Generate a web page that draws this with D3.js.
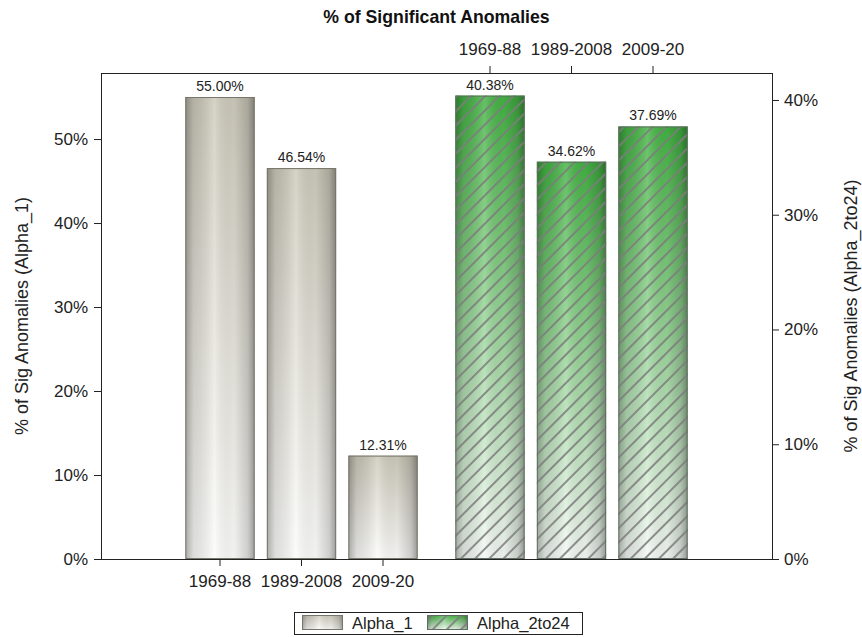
<!DOCTYPE html>
<html>
<head>
<meta charset="utf-8">
<script src="https://cdn.jsdelivr.net/npm/d3@7"></script>
<style>
  html, body { margin: 0; padding: 0; background: #fff; }
  svg { display: block; font-family: "Liberation Sans", Arial, sans-serif; }
</style>
</head>
<body>
<svg id="chart" width="862" height="637"></svg>
<script>
// Periods shown on both category axes
const periods = ["1969-88", "1989-2008", "2009-20"];
// Percent of significant anomalies per period
const alpha1 = [55.00, 46.54, 12.31];
const alpha2to24 = [40.38, 34.62, 37.69];
// Axis tick values (percent)
const leftTicks = [0, 10, 20, 30, 40, 50];
const rightTicks = [0, 10, 20, 30, 40];
const seriesNames = ["Alpha_1", "Alpha_2to24"];

const svg = d3.select("#chart");
const frame = { left: 101, right: 772, top: 73, bottom: 559 };

const yL = d3.scaleLinear().domain([0, 57.86]).range([frame.bottom, frame.top]);
const yR = d3.scaleLinear().domain([0, 42.35]).range([frame.bottom, frame.top]);
const xB = d3.scaleBand().domain(periods).range([179.25, 423.75]).paddingInner(0.15).paddingOuter(0.075);
const xT = d3.scaleBand().domain(periods).range([449.25, 693.75]).paddingInner(0.15).paddingOuter(0.075);

// ---- paint definitions ----
const defs = svg.append("defs");
function vGrad(id, top, bottom) {
  const g = defs.append("linearGradient").attr("id", id)
    .attr("x1", 0).attr("y1", 0).attr("x2", 0).attr("y2", 1);
  g.append("stop").attr("offset", 0).attr("stop-color", top);
  g.append("stop").attr("offset", 1).attr("stop-color", bottom);
}
vGrad("fillA1", "#cdcabb", "#fcfcfa");
vGrad("fillA2", "#42b242", "#f3f8f3");

const sh = defs.append("linearGradient").attr("id", "shadeH")
  .attr("x1", 0).attr("y1", 0).attr("x2", 1).attr("y2", 0);
[[0, "#000", 0.32], [0.12, "#000", 0.12], [0.42, "#fff", 0.18], [0.7, "#000", 0.04], [0.9, "#000", 0.18], [1, "#000", 0.38]]
  .forEach(([o, c, a]) => sh.append("stop").attr("offset", o).attr("stop-color", c).attr("stop-opacity", a));

const hatch = defs.append("pattern").attr("id", "hatch")
  .attr("patternUnits", "userSpaceOnUse").attr("width", 10).attr("height", 10)
  .attr("patternTransform", "rotate(45)");
hatch.append("line").attr("x1", 1).attr("y1", 0).attr("x2", 1).attr("y2", 10)
  .attr("stroke", "#7d7d7d").attr("stroke-width", 2).attr("stroke-opacity", 0.85);

function drawBar(g, x, y, w, h, fill, hatched, stroke) {
  g.append("rect").attr("x", x).attr("y", y).attr("width", w).attr("height", h).attr("fill", fill);
  g.append("rect").attr("x", x).attr("y", y).attr("width", w).attr("height", h).attr("fill", "url(#shadeH)");
  if (hatched) g.append("rect").attr("x", x).attr("y", y).attr("width", w).attr("height", h).attr("fill", "url(#hatch)");
  g.append("rect").attr("x", x + 0.5).attr("y", y + 0.5).attr("width", w - 1).attr("height", h - 1)
    .attr("fill", "none").attr("stroke", stroke).attr("stroke-width", 1);
}

// ---- bars ----
const bars = svg.append("g");
periods.forEach((p, i) => {
  const y = yL(alpha1[i]);
  drawBar(bars, xB(p), y, xB.bandwidth(), frame.bottom - y, "url(#fillA1)", false, "#77746a");
  bars.append("text").attr("x", xB(p) + xB.bandwidth() / 2).attr("y", y - 6)
    .attr("text-anchor", "middle").attr("font-size", 14).attr("fill", "#222")
    .text(alpha1[i].toFixed(2) + "%");
});
periods.forEach((p, i) => {
  const y = yR(alpha2to24[i]);
  drawBar(bars, xT(p), y, xT.bandwidth(), frame.bottom - y, "url(#fillA2)", true, "#5f6f5f");
  bars.append("text").attr("x", xT(p) + xT.bandwidth() / 2).attr("y", y - 6)
    .attr("text-anchor", "middle").attr("font-size", 14).attr("fill", "#222")
    .text(alpha2to24[i].toFixed(2) + "%");
});

// ---- axes ----
const pct = d => d + "%";
function styleAxis(g, size) {
  g.selectAll("path").attr("stroke", "#222");
  g.selectAll("line").attr("stroke", "#222");
  g.selectAll("text").attr("font-size", size).attr("fill", "#222");
}
const gl = svg.append("g").attr("transform", `translate(${frame.left},0)`)
  .call(d3.axisLeft(yL).tickValues(leftTicks).tickFormat(pct).tickSize(7).tickSizeOuter(0).tickPadding(6));
styleAxis(gl, 17);
const gr = svg.append("g").attr("transform", `translate(${frame.right},0)`)
  .call(d3.axisRight(yR).tickValues(rightTicks).tickFormat(pct).tickSize(7).tickSizeOuter(0).tickPadding(5));
styleAxis(gr, 17);

const gb = svg.append("g").attr("transform", `translate(0,${frame.bottom})`)
  .call(d3.axisBottom(xB).tickSize(7).tickSizeOuter(0).tickPadding(9));
gb.select("path").remove();
styleAxis(gb, 17);
const gt = svg.append("g").attr("transform", `translate(0,${frame.top})`)
  .call(d3.axisTop(xT).tickSize(7).tickSizeOuter(0).tickPadding(11));
gt.select("path").remove();
styleAxis(gt, 17);

// frame lines
svg.append("line").attr("x1", frame.left).attr("x2", frame.right).attr("y1", frame.bottom + 0.5).attr("y2", frame.bottom + 0.5).attr("stroke", "#222");
svg.append("line").attr("x1", frame.left).attr("x2", frame.right).attr("y1", frame.top + 0.5).attr("y2", frame.top + 0.5).attr("stroke", "#222");
svg.append("line").attr("x1", frame.left + 0.5).attr("x2", frame.left + 0.5).attr("y1", frame.top).attr("y2", frame.bottom + 1).attr("stroke", "#222");
svg.append("line").attr("x1", frame.right + 0.5).attr("x2", frame.right + 0.5).attr("y1", frame.top).attr("y2", frame.bottom + 1).attr("stroke", "#222");

// axis titles
const midY = (frame.top + frame.bottom) / 2;
svg.append("text").attr("transform", `translate(28,${midY}) rotate(-90)`)
  .attr("text-anchor", "middle").attr("font-size", 18).attr("fill", "#222")
  .text("% of Sig Anomalies (Alpha_1)");
svg.append("text").attr("transform", `translate(857,${midY}) rotate(-90)`)
  .attr("text-anchor", "middle").attr("font-size", 18).attr("fill", "#222")
  .text("% of Sig Anomalies (Alpha_2to24)");

// chart title
svg.append("text").attr("x", (frame.left + frame.right) / 2).attr("y", 23)
  .attr("text-anchor", "middle").attr("font-size", 17.7).attr("font-weight", "bold").attr("fill", "#111")
  .text("% of Significant Anomalies");

// ---- legend ----
const lg = svg.append("g");
lg.append("rect").attr("x", 294.5).attr("y", 612.5).attr("width", 288).attr("height", 22)
  .attr("fill", "#fff").attr("stroke", "#222");
const swX = [302, 427];
seriesNames.forEach((name, i) => {
  const g = lg.append("g");
  drawBar(g, swX[i], 615, 41, 15, i === 0 ? "url(#fillA1)" : "url(#fillA2)", i === 1, i === 0 ? "#77746a" : "#5f6f5f");
  lg.append("text").attr("x", swX[i] + 50).attr("y", 629)
    .attr("font-size", 16.5).attr("fill", "#222").text(name);
});
</script>
</body>
</html>
